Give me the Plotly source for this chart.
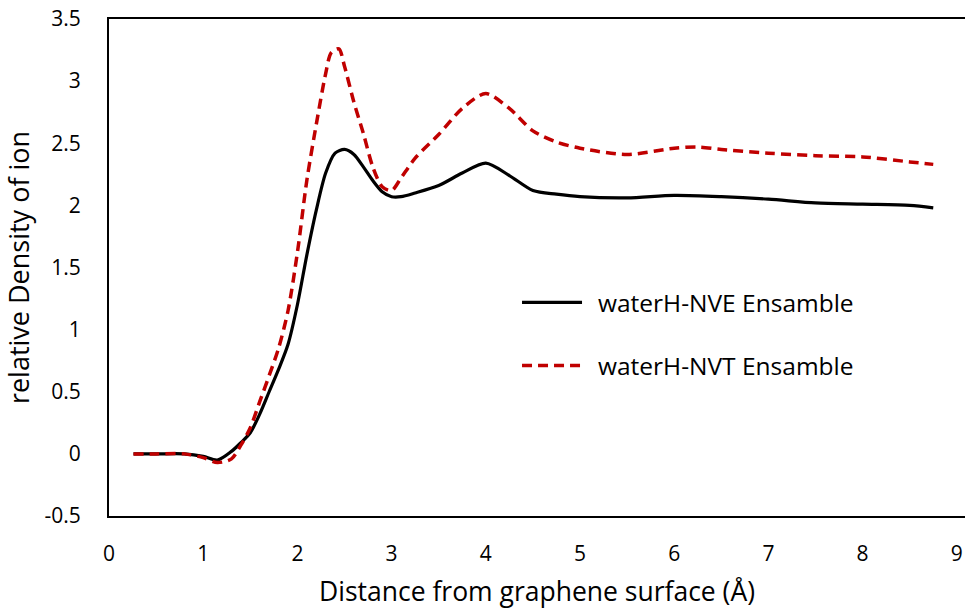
import plotly.graph_objects as go

# ---- data ----
x_nve = [0.26, 0.5, 0.8, 1.0, 1.15, 1.3, 1.4, 1.5, 1.6, 1.7, 1.8, 1.9, 2.0, 2.1, 2.2, 2.3, 2.4, 2.5,
         2.6, 2.7, 2.8, 2.9, 3.0, 3.1, 3.25, 3.5, 3.75, 4.0, 4.25, 4.5, 4.75, 5.0, 5.5, 6.0, 6.5,
         7.0, 7.5, 8.0, 8.5, 8.75]
y_nve = [0.0, 0.0, 0.0, -0.02, -0.05, 0.02, 0.09, 0.17, 0.32, 0.50, 0.68, 0.88, 1.20, 1.60, 1.96, 2.26, 2.42, 2.45,
         2.41, 2.31, 2.20, 2.11, 2.07, 2.07, 2.10, 2.16, 2.26, 2.34, 2.24, 2.12, 2.09, 2.07, 2.06, 2.08, 2.07,
         2.05, 2.02, 2.01, 2.00, 1.98]

x_nvt = [0.26, 0.5, 0.8, 1.0, 1.15, 1.3, 1.4, 1.5, 1.6, 1.7, 1.8, 1.9, 2.0, 2.1, 2.2, 2.3, 2.36, 2.44, 2.5,
         2.6, 2.7, 2.8, 2.9, 3.0, 3.1, 3.25, 3.5, 3.75, 4.0, 4.25, 4.5, 4.75, 5.0, 5.5, 6.0, 6.25, 6.5,
         7.0, 7.5, 8.0, 8.5, 8.75]
y_nvt = [0.0, 0.0, 0.0, -0.03, -0.07, -0.04, 0.07, 0.21, 0.42, 0.63, 0.85, 1.15, 1.62, 2.20, 2.65, 3.06, 3.23, 3.26, 3.12,
         2.83, 2.58, 2.31, 2.15, 2.12, 2.22, 2.38, 2.57, 2.78, 2.90, 2.78, 2.60, 2.51, 2.46, 2.41, 2.46, 2.47, 2.45,
         2.42, 2.40, 2.39, 2.35, 2.33]

series_names = ["waterH-NVE Ensamble", "waterH-NVT Ensamble"]

x_ticks = [0, 1, 2, 3, 4, 5, 6, 7, 8, 9]
y_ticks = [-0.5, 0, 0.5, 1, 1.5, 2, 2.5, 3, 3.5]
y_ticktext = ["-0.5", "0", "0.5", "1", "1.5", "2", "2.5", "3", "3.5"]

FONT = "Open Sans"
BLACK_LINE = dict(color="#000000", width=3.2, shape="spline", smoothing=0.8)
RED_LINE = dict(color="#C00000", width=3.5, dash="10px,6px", shape="spline", smoothing=0.8)

fig = go.Figure()
fig.add_trace(go.Scatter(x=x_nve, y=y_nve, mode="lines", name=series_names[0], line=BLACK_LINE))
fig.add_trace(go.Scatter(x=x_nvt, y=y_nvt, mode="lines", name=series_names[1], line=RED_LINE))

# manual legend (long sample lines as in the reference)
legend_y = [0.430, 0.303]
for name, ly, ln in zip(series_names, legend_y, [BLACK_LINE, RED_LINE]):
    fig.add_shape(type="line", xref="paper", yref="paper", x0=0.4825, x1=0.5526, y0=ly, y1=ly,
                  line=dict(color=ln["color"], width=ln["width"], dash=ln.get("dash", "solid")))
    fig.add_annotation(xref="paper", yref="paper", x=0.5685, y=ly, text=name, showarrow=False,
                       xanchor="left", yanchor="middle", font=dict(family=FONT, size=24.5, color="#000"))

fig.update_layout(
    width=965, height=610,
    margin=dict(l=109, r=0, t=19, b=94),
    paper_bgcolor="white", plot_bgcolor="white",
    showlegend=False,
    font=dict(family=FONT, color="#000"),
    xaxis=dict(range=[0, 9.087], tickvals=x_ticks, showgrid=False, zeroline=False,
               showline=True, linecolor="#000", linewidth=2, mirror=True,
               ticks="outside", ticklen=18, tickcolor="rgba(0,0,0,0)",
               tickfont=dict(family=FONT, size=21, color="#000"),
               title=dict(text="Distance from graphene surface (Å)", font=dict(family=FONT, size=26.5, color="#000"), standoff=16)),
    yaxis=dict(range=[-0.5, 3.5], tickvals=y_ticks, ticktext=y_ticktext, showgrid=False, zeroline=False,
               showline=True, linecolor="#000", linewidth=2,
               ticks="outside", ticklen=22, tickcolor="rgba(0,0,0,0)",
               tickfont=dict(family=FONT, size=21, color="#000"),
               title=dict(text="relative Density of ion", font=dict(family=FONT, size=27, color="#000"), standoff=8)),
)

fig.write_html("out.html")
